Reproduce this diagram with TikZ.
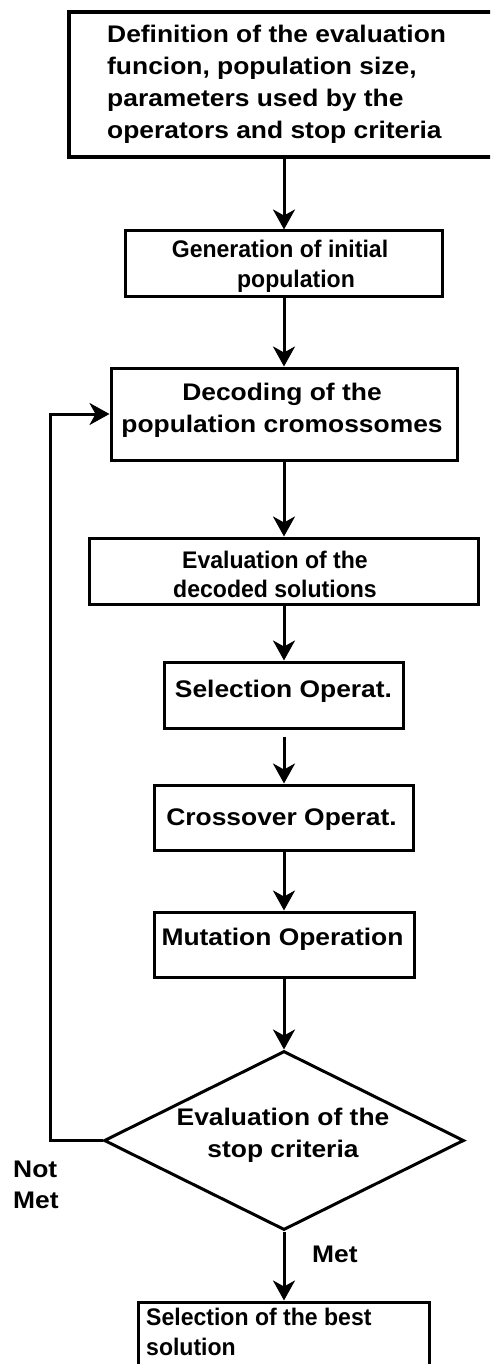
\documentclass[tikz,border=0pt]{standalone}
\usepackage{fontspec}
\setmainfont{Liberation Sans}[FakeStretch=0.96]
\newfontfamily\widefont{Liberation Sans}[FakeStretch=1.1]
\usetikzlibrary{shapes.geometric,arrows.meta}
% several lines stacked, baseline at the first line
\newcommand\stacklines[2][c]{\begin{tabular}[t]{@{}#1@{}}#2\end{tabular}}
\begin{document}
\begin{tikzpicture}[x=1pt,y=-1pt,
  box/.style 2 args={draw, line width=3pt, rectangle, inner sep=0pt,
    minimum width=#1, minimum height=#2},
  wide/.style={font=\widefont\bfseries\fontsize{24}{#1}\selectfont, inner sep=0pt},
  wide/.default=31,
  narrow/.style={font=\bfseries\fontsize{24}{#1}\selectfont, inner sep=0pt},
  narrow/.default=30,
  arr/.style={line width=3pt, -{Stealth[length=20pt,width=22pt,inset=6pt]}}]
\useasboundingbox (0,0) rectangle (490,1364);
\clip (0,0) rectangle (490,1364);
\fill[white] (0,0) rectangle (490,1364);

% boxes of the flow
\node[box={430pt}{145pt}, line width=4pt] (b1) at (284,84.5) {};
\node[box={317pt}{65pt}] (b2) at (284,263.5) {};
\node[box={346pt}{92pt}] (b3) at (284,414) {};
\node[box={389pt}{66pt}] (b4) at (284,571) {};
\node[box={239pt}{66pt}] (b5) at (284,695) {};
\node[box={259pt}{65pt}] (b6) at (284,817.5) {};
\node[box={260pt}{65pt}] (b7) at (284,944.5) {};
\node[diamond, draw, line width=3pt, inner sep=0pt,
      minimum width=360pt, minimum height=179pt] (d) at (284,1140.5) {};
\node[box={291pt}{78pt}] (b8) at (284,1341) {};

% texts
\node[wide=32, anchor=base west] (t1) at (107,43)
  {\stacklines[l]{Definition of the evaluation\\funcion, population size,\\parameters used by the\\operators and stop criteria}};
\node[narrow=30, anchor=base] (t2) at (280,258)
  {\stacklines{Generation of initial\\\hspace*{32pt}population}};
\node[wide=32, anchor=base] (t3) at (282,400)
  {\stacklines{Decoding of the\\population cromossomes}};
\node[narrow=29, anchor=base] (t4) at (275,568)
  {\stacklines{Evaluation of the\\decoded solutions}};
\node[wide, anchor=base] (t5) at (283.5,697) {Selection Operat.};
\node[wide, anchor=base] (t6) at (281.5,825) {Crossover Operat.};
\node[wide, anchor=base] (t7) at (282.5,945) {Mutation Operation};
\node[wide=32, anchor=base] (t8) at (283,1125)
  {\stacklines{Evaluation of the\\stop criteria}};
\node[narrow=30, anchor=base west] (t9) at (146,1325)
  {\stacklines[l]{Selection of the best\\solution}};
\node[wide=31, anchor=base west] (notmet) at (13,1177)
  {\stacklines[l]{Not\\Met}};
\node[wide, anchor=base west] (met) at (312,1262) {Met};

% connectors
\coordinate (lp) at (50,0);
\draw[arr] (b1) -- (b2);
\draw[arr] (b2) -- (b3);
\draw[arr] (b3) -- (b4);
\draw[arr] (b4) -- (b5);
\draw[arr, shorten <=7pt] (b5) -- (b6);
\draw[arr] (b6) -- (b7);
\draw[arr] (b7) -- (d);
\draw[arr] (d) -- (b8);
\draw[arr] (d.west) -- (lp |- d.west) |- (b3.west);
\end{tikzpicture}
\end{document}
